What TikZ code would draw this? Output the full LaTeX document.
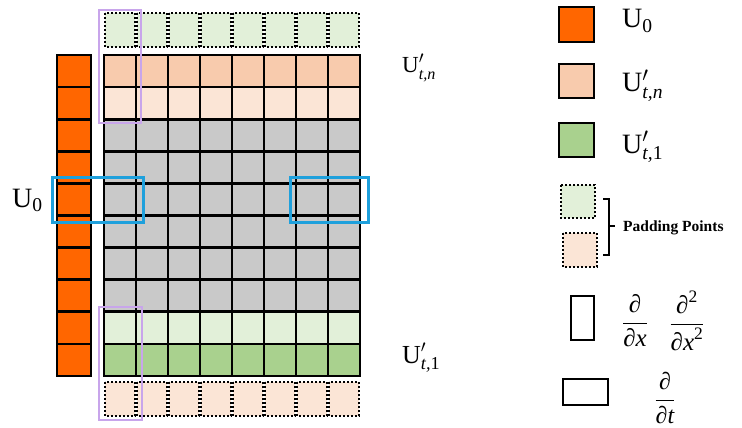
\documentclass[tikz,border=0pt]{standalone}
\usepackage{amsmath}
\usepackage{fontspec}
\setmainfont{Liberation Serif}
\definecolor{uorange}{RGB}{255,102,0}
\definecolor{rowtn}{RGB}{248,203,173}
\definecolor{peach}{RGB}{251,229,214}
\definecolor{cgrey}{RGB}{201,201,201}
\definecolor{lgreen}{RGB}{226,240,217}
\definecolor{cgreen}{RGB}{169,209,142}
\definecolor{lav}{RGB}{200,165,235}
\definecolor{cblue}{RGB}{30,160,220}
\newcommand{\Ulab}[1]{$\text{U}'_{\text{#1}}$}
\newcommand{\Uzero}{$\text{U}_{\text{0}}$}
\tikzset{
  cell/.style={draw=black, line width=2.8pt},
  padcell/.style={draw=black, line width=2pt, dash pattern=on 2pt off 2pt},
  legbox/.style={draw=black, line width=2.6pt},
  lavbox/.style={draw=lav, line width=2.2pt},
  bluebox/.style={draw=cblue, line width=3pt},
  lab/.style={inner sep=0pt, anchor=base west},
}
\begin{document}
\begin{tikzpicture}[x=1pt,y=-1pt]
\useasboundingbox (0,0) rectangle (742,428);
% top padding row
\foreach \c in {0,...,7}{
  \draw[padcell, fill=lgreen] ({104+32*\c+1},13) rectangle ({136+32*\c-1},47);
}
% bottom padding row
\foreach \c in {0,...,7}{
  \draw[padcell, fill=peach] ({104+32*\c+1},382) rectangle ({136+32*\c-1},416);
}
% main grid
\foreach \r/\col in {0/rowtn,1/peach,2/cgrey,3/cgrey,4/cgrey,5/cgrey,6/cgrey,7/cgrey,8/lgreen,9/cgreen}{
  \foreach \c in {0,...,7}{
    \fill[\col] ({104+32*\c},{55+32.1*\r}) rectangle ({136+32*\c},{55+32.1*(\r+1)});
  }
}
\foreach \r in {0,...,9}{
  \foreach \c in {0,...,7}{
    \draw[cell] ({104+32*\c},{55+32.1*\r}) rectangle ({136+32*\c},{55+32.1*(\r+1)});
  }
}
% left U0 column
\foreach \r in {0,...,9}{
  \draw[cell, fill=uorange] (57,{55+32.1*\r}) rectangle (91,{55+32.1*(\r+1)});
}
% lavender frames
\draw[lavbox] (99,10) rectangle (141,123);
\draw[lavbox] (99,307) rectangle (142,420);
% blue frames
\draw[bluebox] (52,177) rectangle (143,222);
\draw[bluebox] (290,177) rectangle (368,222);
% labels near grid
\node[lab, font=\fontsize{28}{30}\selectfont] (lu0) at (12,207) {\Uzero};
\node[lab, font=\fontsize{23}{26}\selectfont] (ltn) at (402,73) {\Ulab{\itshape t,n}};
\node[lab, font=\fontsize{26}{28}\selectfont] (lt1) at (402,363) {\Ulab{\itshape t,\upshape 1}};
% legend
\draw[legbox, fill=uorange] (559,7) rectangle (594,42);
\draw[legbox, fill=rowtn] (559,64) rectangle (594,98);
\draw[legbox, fill=cgreen] (559,123) rectangle (594,157);
\node[lab, font=\fontsize{28}{30}\selectfont] (g1) at (622,28) {\Uzero};
\node[lab, font=\fontsize{28}{30}\selectfont] (g2) at (622,92) {\Ulab{\itshape t,n}};
\node[lab, font=\fontsize{28}{30}\selectfont] (g3) at (622,153) {\Ulab{\itshape t,\upshape 1}};
\draw[padcell, fill=lgreen] (561,185) rectangle (595,218);
\draw[padcell, fill=peach] (563,233) rectangle (597,267);
\draw[line width=2pt] (603,199) -- (609,199) -- (609,255) -- (603,255);
\draw[line width=2pt] (609,226) -- (615,226);
\node[lab, font=\fontsize{15.5}{17}\selectfont\bfseries] (pp) at (623,231) {Padding Points};
\draw[legbox, line width=2.4pt] (571,296) rectangle (594,340);
\draw[legbox, line width=2.4pt] (563,379) rectangle (608,405);
\node[inner sep=0pt, font=\fontsize{25}{28}\selectfont] (fx) at (635,321) {$\dfrac{\text{∂}}{\text{∂\itshape x}}$};
\node[inner sep=0pt, font=\fontsize{25}{28}\selectfont] (fxx) at (687,321) {$\dfrac{\text{∂}^{\text{2}}}{\text{∂\itshape x}^{\text{2}}}$};
\node[inner sep=0pt, font=\fontsize{24}{27}\selectfont] (ft) at (665,398) {$\dfrac{\text{∂}}{\text{∂\itshape t}}$};
\end{tikzpicture}
\end{document}
